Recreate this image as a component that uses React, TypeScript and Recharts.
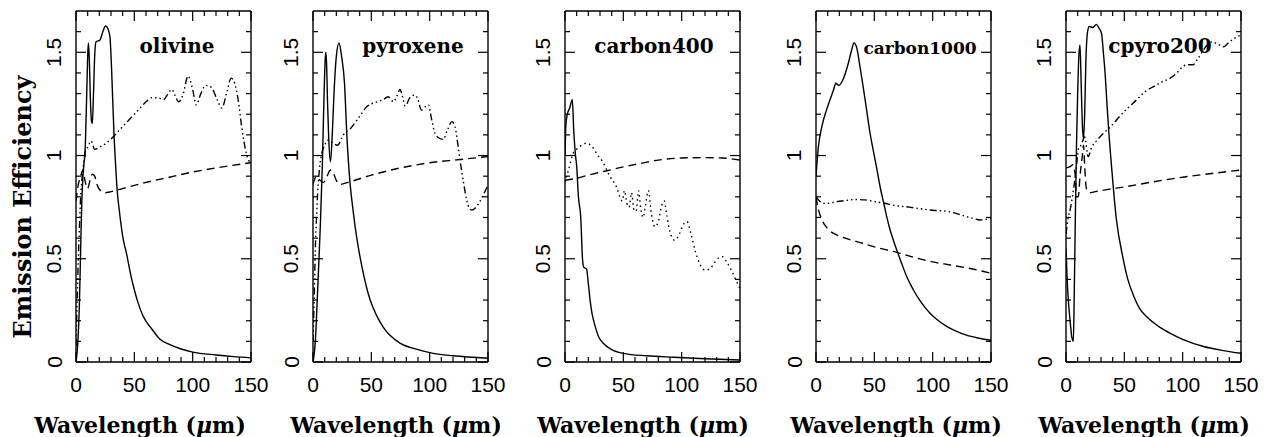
import { LineChart, Line, XAxis, YAxis } from "recharts";

type Pt = [number, number];

// x ticks every 10 um, y ticks every 0.1
const xTicks = [0, 10, 20, 30, 40, 50, 60, 70, 80, 90, 100, 110, 120, 130, 140, 150];
const yTicks = [0, 0.1, 0.2, 0.3, 0.4, 0.5, 0.6, 0.7, 0.8, 0.9, 1, 1.1, 1.2, 1.3, 1.4, 1.5, 1.6];

const titles = ["olivine", "pyroxene", "carbon400", "carbon1000", "cpyro200"];

const olivineSolid: Pt[] = [
  [0, 0], [1, 0.05], [2, 0.14], [3, 0.3], [4, 0.55], [5, 0.78], [6, 0.9], [7, 0.97], [7.7, 1.01],
  [8.5, 1.15], [9.2, 1.3], [10, 1.48], [10.6, 1.545], [11.4, 1.47], [12.3, 1.28], [13.2, 1.17],
  [14, 1.155], [15, 1.3], [16, 1.48], [17.1, 1.55], [20.6, 1.56], [23, 1.6], [25.4, 1.627],
  [27.3, 1.615], [29.1, 1.575], [30.5, 1.42], [31.6, 1.25], [32.6, 1.1], [34, 0.95], [35.3, 0.83],
  [37, 0.74], [40, 0.61], [43.5, 0.52], [47, 0.42], [50, 0.35], [53, 0.29], [57.7, 0.22],
  [65, 0.16], [72, 0.11], [80, 0.085], [90, 0.063], [100, 0.048], [120, 0.034], [135, 0.026], [150, 0.02],
];
const olivineDash: Pt[] = [
  [0, 0.78], [2, 0.86], [4, 0.9], [6, 0.93], [8, 0.87], [10, 0.84], [12, 0.88], [14, 0.91], [16, 0.9],
  [18, 0.86], [21, 0.83], [25, 0.82], [30, 0.825], [40, 0.84], [60, 0.87], [80, 0.895], [100, 0.92],
  [120, 0.94], [150, 0.965],
];
const olivineDot: Pt[] = [
  [0, 0.08], [1, 0.3], [2, 0.5], [3, 0.66], [4, 0.8], [5, 0.88], [6, 0.94], [7, 0.98], [8, 1.02],
  [10, 1.04], [13, 1.07], [16, 1.03], [20, 1.04], [26, 1.06], [30, 1.08], [35, 1.11], [40, 1.14],
  [45, 1.17], [50, 1.2], [55, 1.23], [60, 1.26], [65, 1.28], [70, 1.28], [75, 1.27], [79, 1.3],
  [82, 1.32], [85, 1.29], [88, 1.26], [92, 1.3], [96, 1.385], [100, 1.32], [103, 1.245], [107, 1.3],
  [111, 1.34], [116, 1.33], [121, 1.27], [125, 1.23], [129, 1.3], [133, 1.375], [136, 1.35],
  [139, 1.27], [142, 1.14], [146, 1.01], [150, 0.96],
];

const pyroxeneSolid: Pt[] = [
  [0, 0], [2, 0.1], [4, 0.35], [6, 0.62], [8, 0.95], [9.5, 1.3], [10.5, 1.47], [11, 1.5], [11.6, 1.45],
  [12.5, 1.25], [13.5, 1.08], [15, 0.97], [16.5, 1.1], [18, 1.3], [20, 1.48], [22.3, 1.545],
  [24.5, 1.48], [27, 1.35], [29, 1.1], [31.7, 0.87], [34, 0.75], [36, 0.66], [39, 0.55], [42, 0.46],
  [49, 0.3], [55, 0.22], [60, 0.17], [75, 0.09], [90, 0.06], [103, 0.042], [120, 0.03], [150, 0.018],
];
const pyroxeneDash: Pt[] = [
  [0, 0.86], [3, 0.9], [6, 0.88], [9, 0.87], [12, 0.9], [15, 0.93], [17, 0.92], [20, 0.88], [23, 0.86],
  [30, 0.87], [50, 0.905], [75, 0.94], [100, 0.965], [125, 0.98], [150, 0.995],
];
const pyroxeneDot: Pt[] = [
  [0, 0.1], [1, 0.3], [2, 0.55], [3, 0.7], [4, 0.82], [5, 0.9], [6, 0.96], [7.5, 1.01], [10, 1.05],
  [13, 1.075], [17, 1.06], [21, 1.05], [26, 1.1], [32, 1.13], [40, 1.19], [46, 1.236], [50, 1.25],
  [55, 1.26], [60, 1.27], [64.5, 1.285], [69, 1.26], [72, 1.29], [74.6, 1.32], [76.5, 1.29], [79, 1.24],
  [83, 1.28], [87.4, 1.293], [90, 1.27], [93, 1.22], [96, 1.235], [99, 1.245], [101.5, 1.18],
  [104.6, 1.107], [108, 1.085], [111.7, 1.078], [115, 1.12], [119, 1.164], [121.7, 1.14], [124, 1.06],
  [126, 0.978], [129, 0.87], [131.7, 0.785], [134, 0.745], [136, 0.736], [139, 0.745], [142, 0.768],
  [146, 0.81], [150, 0.857],
];

const carbon400Solid: Pt[] = [
  [0, 1.0], [0.8, 1.15], [2, 1.2], [4, 1.23], [6.3, 1.27], [7.5, 1.12], [9, 1.0], [10, 0.95],
  [11.5, 0.8], [13.5, 0.7], [15, 0.5], [16, 0.46], [18.5, 0.45], [20, 0.38], [21.5, 0.3], [23, 0.24],
  [26, 0.17], [29, 0.12], [33, 0.09], [40, 0.06], [50, 0.042], [70, 0.03], [93, 0.023], [120, 0.016],
  [150, 0.01],
];
const carbon400Dash: Pt[] = [
  [0, 0.88], [10, 0.89], [20, 0.905], [35, 0.925], [50, 0.945], [65, 0.962], [80, 0.978], [100, 0.988],
  [120, 0.99], [135, 0.988], [150, 0.978],
];
const carbon400Dot: Pt[] = [
  [0, 0.87], [3, 0.93], [7, 1.01], [10, 1.03], [13, 1.045], [18.6, 1.06], [22, 1.05], [25, 1.03],
  [28, 1.0], [31.4, 0.978], [35, 0.94], [38.6, 0.897], [42, 0.87], [44, 0.85], [47, 0.8], [49, 0.78],
  [51, 0.83], [53, 0.77], [55, 0.75], [57, 0.82], [59, 0.74], [61, 0.73], [63, 0.83], [65, 0.74],
  [67, 0.7], [69, 0.76], [71.5, 0.83], [74, 0.72], [77, 0.655], [80, 0.68], [83, 0.76], [85, 0.78],
  [87, 0.72], [90, 0.63], [94, 0.59], [98, 0.62], [102, 0.67], [104.5, 0.68], [108, 0.62], [112, 0.53],
  [116, 0.47], [120, 0.445], [124, 0.45], [128, 0.48], [132, 0.505], [135, 0.51], [139, 0.48],
  [143, 0.44], [147, 0.39], [150, 0.355],
];

const carbon1000Solid: Pt[] = [
  [0, 0.9], [2, 1.04], [5, 1.14], [9, 1.22], [12, 1.27], [15, 1.317], [17, 1.35], [19.5, 1.34],
  [23, 1.366], [27.7, 1.447], [30.5, 1.51], [32.6, 1.545], [35, 1.52], [37.7, 1.43], [40.5, 1.33],
  [43.4, 1.22], [46, 1.12], [49, 1.027], [52, 0.94], [54.9, 0.85], [58, 0.77], [60.6, 0.704],
  [63, 0.65], [66.3, 0.59], [70, 0.53], [73.4, 0.478], [78, 0.41], [83.4, 0.35], [90, 0.29],
  [97.7, 0.236], [105, 0.2], [112, 0.173], [120, 0.15], [129, 0.13], [140, 0.115], [150, 0.105],
];
const carbon1000Dash: Pt[] = [
  [0, 0.8], [2, 0.74], [5, 0.69], [8, 0.66], [12, 0.635], [18, 0.615], [25, 0.6], [40, 0.575],
  [55, 0.55], [70, 0.53], [85, 0.505], [100, 0.485], [115, 0.47], [130, 0.455], [150, 0.43],
];
const carbon1000Dot: Pt[] = [
  [0, 0.8], [3, 0.78], [6.3, 0.768], [12, 0.77], [17, 0.776], [25, 0.782], [34, 0.787], [42, 0.785],
  [51, 0.776], [58, 0.77], [65.7, 0.76], [80, 0.75], [90, 0.742], [97.7, 0.736], [105, 0.733],
  [112, 0.73], [120, 0.72], [129, 0.704], [135, 0.695], [140.6, 0.688], [145, 0.69], [150, 0.695],
];

const cpyroSolid: Pt[] = [
  [0, 0.55], [1, 0.4], [2, 0.3], [3, 0.23], [4, 0.17], [5, 0.12], [6.3, 0.1], [7, 0.3], [8, 0.7],
  [9, 1.05], [10, 1.3], [11, 1.48], [12, 1.535], [13, 1.35], [14, 1.15], [15, 1.08], [16, 1.2],
  [17, 1.45], [18.5, 1.6], [20, 1.625], [23, 1.62], [26, 1.635], [28, 1.62], [30.5, 1.59], [32, 1.5],
  [33.5, 1.4], [35, 1.26], [36.5, 1.13], [39, 0.95], [43, 0.7], [49, 0.5], [53, 0.4], [58, 0.32],
  [63, 0.26], [69, 0.22], [80, 0.17], [89, 0.14], [100, 0.11], [118, 0.075], [135, 0.055], [150, 0.042],
];
const cpyroDash: Pt[] = [
  [0, 0.94], [3, 0.945], [6, 0.955], [8, 0.9], [9, 0.8], [10.5, 0.8], [12, 0.9], [14, 1.0], [15, 1.05],
  [16, 0.95], [17.5, 0.84], [20, 0.82], [25, 0.825], [35, 0.835], [50, 0.848], [75, 0.873],
  [100, 0.895], [125, 0.913], [150, 0.93],
];
const cpyroDot: Pt[] = [
  [0, 0.62], [2, 0.7], [4, 0.75], [6, 0.82], [8, 0.9], [10, 1.0], [11, 1.04], [13, 1.05], [16, 1.09],
  [19, 0.995], [22, 1.04], [26, 1.07], [32, 1.107], [40, 1.15], [46, 1.19], [53, 1.23], [60.6, 1.27],
  [68, 1.31], [74.9, 1.334], [82, 1.355], [89, 1.374], [95, 1.4], [100.6, 1.433], [105, 1.44],
  [109, 1.44], [113, 1.47], [117.7, 1.51], [121, 1.535], [125, 1.55], [130, 1.54], [135, 1.527],
  [140, 1.55], [145, 1.57], [150, 1.584],
];

const DASH = "8 5";
const DASH_DOTS = "7 3 1.5 3 1.5 3 1.5 3";
const DOTS = "1.5 3.5";

const toRows = (pts: Pt[]) => pts.map(([x, y]) => ({ x, y }));

const panelSeries = [
  [olivineSolid, olivineDash, olivineDot],
  [pyroxeneSolid, pyroxeneDash, pyroxeneDot],
  [carbon400Solid, carbon400Dash, carbon400Dot],
  [carbon1000Solid, carbon1000Dash, carbon1000Dot],
  [cpyroSolid, cpyroDash, cpyroDot],
];
const upperDash = [DASH_DOTS, DASH_DOTS, DOTS, DASH_DOTS, DASH_DOTS];

// layout
const plotLefts = [76, 313, 565, 816, 1066];
const titleX = [177, 413, 654, 920, 1160];
const xLabelX = [140, 396, 643, 896, 1144];
const PW = 175;
const TOP = 11;
const BOTTOM = 362;
const ML = 40;
const MR = 34;
const H = 437;

const tickFont = "'Liberation Sans', Arial, sans-serif";
const serif = "'DejaVu Serif', serif";
const frame = { stroke: "#000", strokeWidth: 1.4 };

const majorX = (v: number) => v % 50 === 0;
const majorY = (v: number) => Math.abs(v * 2 - Math.round(v * 2)) < 1e-6;

const bottomTick = (p: any) => {
  const v = p.payload.value;
  const big = majorX(v);
  return (
    <g>
      <line x1={p.x} x2={p.x} y1={p.y} y2={p.y - (big ? 10 : 5)} stroke="#000" strokeWidth={1.2} />
      {big && (
        <text x={p.x} y={p.y + 22} textAnchor="middle" dominantBaseline="central" fontFamily={tickFont} fontSize={21} fill="#000">
          {v}
        </text>
      )}
    </g>
  );
};

const topTick = (p: any) => {
  const big = majorX(p.payload.value);
  return <line x1={p.x} x2={p.x} y1={p.y} y2={p.y + (big ? 10 : 5)} stroke="#000" strokeWidth={1.2} />;
};

const leftTick = (p: any) => {
  const v = p.payload.value;
  const big = majorY(v);
  const lx = p.x - 22;
  return (
    <g>
      <line x1={p.x} x2={p.x + (big ? 10 : 5)} y1={p.y} y2={p.y} stroke="#000" strokeWidth={1.2} />
      {big && (
        <text x={lx} y={p.y} transform={`rotate(-90, ${lx}, ${p.y})`} textAnchor="middle" dominantBaseline="central" fontFamily={tickFont} fontSize={21} fill="#000">
          {v}
        </text>
      )}
    </g>
  );
};

const rightTick = (p: any) => {
  const big = majorY(p.payload.value);
  return <line x1={p.x} x2={p.x - (big ? 10 : 5)} y1={p.y} y2={p.y} stroke="#000" strokeWidth={1.2} />;
};

function Panel({ index }: { index: number }) {
  const [solid, dash, upper] = panelSeries[index];
  const lines = [
    { pts: solid, dash: undefined as string | undefined },
    { pts: dash, dash: DASH },
    { pts: upper, dash: upperDash[index] },
  ];
  // axes are 1px thick so they still render; margins compensate
  return (
    <div style={{ position: "absolute", left: plotLefts[index] - ML, top: 0 }}>
      <LineChart width={PW + ML + MR} height={H} margin={{ top: TOP - 1, right: MR - 1, bottom: H - BOTTOM - 1, left: ML - 1 }}>
        <XAxis xAxisId="b" type="number" dataKey="x" domain={[0, 150]} ticks={xTicks} interval={0} allowDataOverflow height={1} tickSize={0} tickMargin={0} tickLine={false} axisLine={frame} tick={bottomTick} />
        <XAxis xAxisId="t" orientation="top" type="number" dataKey="x" domain={[0, 150]} ticks={xTicks} interval={0} allowDataOverflow height={1} tickSize={0} tickMargin={0} tickLine={false} axisLine={frame} tick={topTick} />
        <YAxis yAxisId="l" type="number" dataKey="y" domain={[0, 1.7]} ticks={yTicks} interval={0} allowDataOverflow width={1} tickSize={0} tickMargin={0} tickLine={false} axisLine={frame} tick={leftTick} />
        <YAxis yAxisId="r" orientation="right" type="number" dataKey="y" domain={[0, 1.7]} ticks={yTicks} interval={0} allowDataOverflow width={1} tickSize={0} tickMargin={0} tickLine={false} axisLine={frame} tick={rightTick} />
        {lines.map((l, i) => (
          <Line
            key={i}
            xAxisId="b"
            yAxisId="l"
            data={toRows(l.pts)}
            dataKey="y"
            type="monotone"
            stroke="#000"
            strokeWidth={1.4}
            strokeDasharray={l.dash}
            dot={false}
            activeDot={false}
            isAnimationActive={false}
          />
        ))}
      </LineChart>
    </div>
  );
}

export default function App() {
  return (
    <div style={{ position: "absolute", left: 0, top: 0, width: 1272, height: 437, background: "#fff", overflow: "hidden" }}>
      {titles.map((_, i) => (
        <Panel key={i} index={i} />
      ))}
      <svg width={1272} height={437} style={{ position: "absolute", left: 0, top: 0, pointerEvents: "none" }}>
        {titles.map((t, i) => (
          <text key={t} x={titleX[i]} y={i === 3 ? 54 : 53} textAnchor="middle" fontFamily={serif} fontWeight="bold" fontSize={i === 3 ? 17 : 20} fill="#000">
            {t}
          </text>
        ))}
        {xLabelX.map((cx, i) => (
          <text key={i} x={cx} y={433} textAnchor="middle" fontFamily={serif} fontWeight="bold" fontSize={22} fill="#000">
            Wavelength (<tspan fontStyle="italic">μ</tspan>m)
          </text>
        ))}
        <text x={22} y={207} transform="rotate(-90, 22, 207)" textAnchor="middle" dominantBaseline="central" fontFamily={serif} fontWeight="bold" fontSize={24} fill="#000">
          Emission Efficiency
        </text>
      </svg>
    </div>
  );
}
